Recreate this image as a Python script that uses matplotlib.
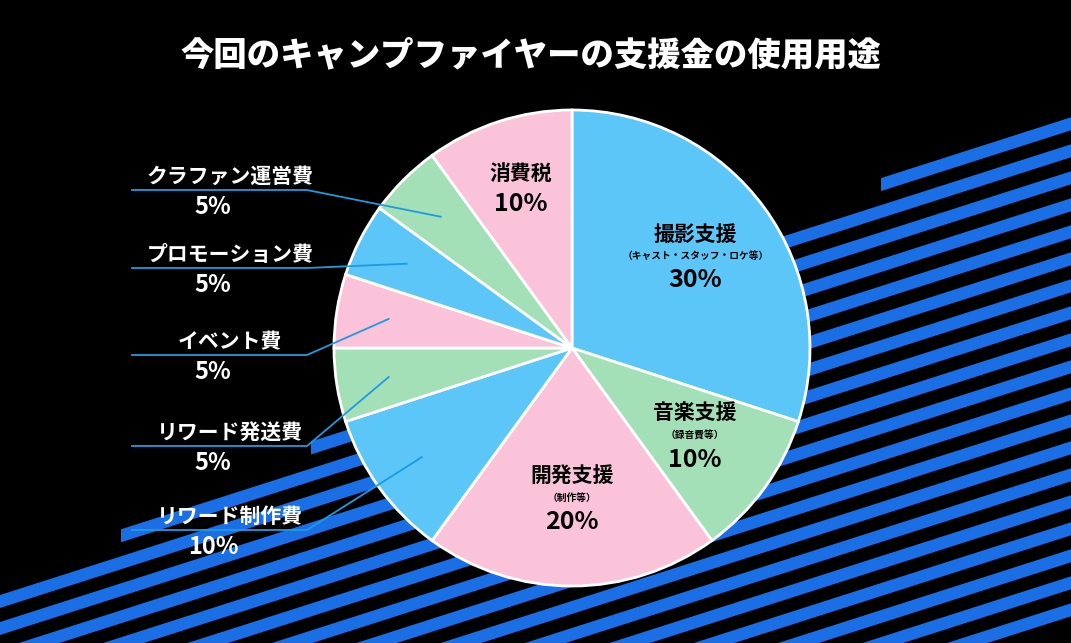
import numpy as np
import matplotlib.pyplot as plt
from matplotlib.patches import Polygon

plt.rcParams["font.family"] = ["Noto Sans CJK JP", "DejaVu Sans"]

title = "今回のキャンプファイヤーの支援金の使用用途"
labels = ["撮影支援", "音楽支援", "開発支援", "リワード制作費", "リワード発送費",
          "イベント費", "プロモーション費", "クラファン運営費", "消費税"]
notes = ["（キャスト・スタッフ・ロケ等）", "（録音費等）", "（制作等）", "", "", "", "", "", ""]
shares = [30, 10, 20, 10, 5, 5, 5, 5, 10]
colors = ["#5bc6f7", "#a3e0b7", "#fbc3da", "#5bc6f7", "#a3e0b7",
          "#fbc3da", "#5bc6f7", "#a3e0b7", "#fbc3da"]
inside = [True, True, True, False, False, False, False, False, True]
label_rows = {7: 190, 6: 268, 5: 355, 4: 446, 3: 530}  # pixel y of underline

W, H = 1071, 643
fig = plt.figure(figsize=(W / 100, H / 100), dpi=100, facecolor="black")
ax = fig.add_axes([0, 0, 1, 1])

# decorative blue stripes
blue = "#1a6ee6"
slope = 0.32
for i, y0 in enumerate(np.arange(200, 700, 27)):
    x0 = max(0, 1071 - (i + 1) * 190)
    xs = np.array([x0, W])
    ys_top = (H - (y0 + 260)) + slope * xs
    ax.add_patch(Polygon([(xs[0], ys_top[0]), (xs[1], ys_top[1]),
                          (xs[1], ys_top[1] - 13), (xs[0], ys_top[0] - 13)],
                         color=blue, lw=0, zorder=0))

cx, cy, r = 572, H - 348, 238
wedges, _ = ax.pie(shares, colors=colors, startangle=90, counterclock=False,
                   center=(cx, cy), radius=r, frame=True,
                   wedgeprops=dict(edgecolor="white", linewidth=2))
ax.set_xlim(0, W)
ax.set_ylim(0, H)
ax.set_aspect("equal")
ax.axis("off")

for i, w in enumerate(wedges):
    ang = np.deg2rad((w.theta1 + w.theta2) / 2)
    if inside[i]:
        k = 0.7 if i == 8 else 0.64
        tx, ty = cx + k * r * np.cos(ang), cy + k * r * np.sin(ang)
        if notes[i]:
            ax.text(tx, ty + 24, labels[i], ha="center", va="center", fontsize=15,
                    fontweight="bold", color="black")
            ax.text(tx, ty + 2, notes[i], ha="center", va="center", fontsize=7,
                    fontweight="bold", color="black")
            ax.text(tx, ty - 22, f"{shares[i]}%", ha="center", va="center",
                    fontsize=18, color="black", fontweight="bold")
        else:
            ax.text(tx, ty + 16, labels[i], ha="center", va="center", fontsize=15,
                    fontweight="bold", color="black")
            ax.text(tx, ty - 14, f"{shares[i]}%", ha="center", va="center",
                    fontsize=18, color="black", fontweight="bold")
    else:
        uy = H - label_rows[i]
        px, py = cx + 0.78 * r * np.cos(ang), cy + 0.78 * r * np.sin(ang)
        ax.plot([132, 307, px], [uy, uy, py], color="#1e9be0", lw=1.3, zorder=3)
        ax.text(230, uy + 3, labels[i], ha="center", va="bottom", fontsize=15,
                fontweight="bold", color="white")
        ax.text(213, uy - 5, f"{shares[i]}%", ha="center", va="top", fontsize=17,
                fontweight="bold", color="white")

ax.text(W / 2 - 5, H - 55, title, ha="center", va="center", fontsize=24,
        fontweight="black", color="white")

fig.savefig("out.png", dpi=100, facecolor="black")
